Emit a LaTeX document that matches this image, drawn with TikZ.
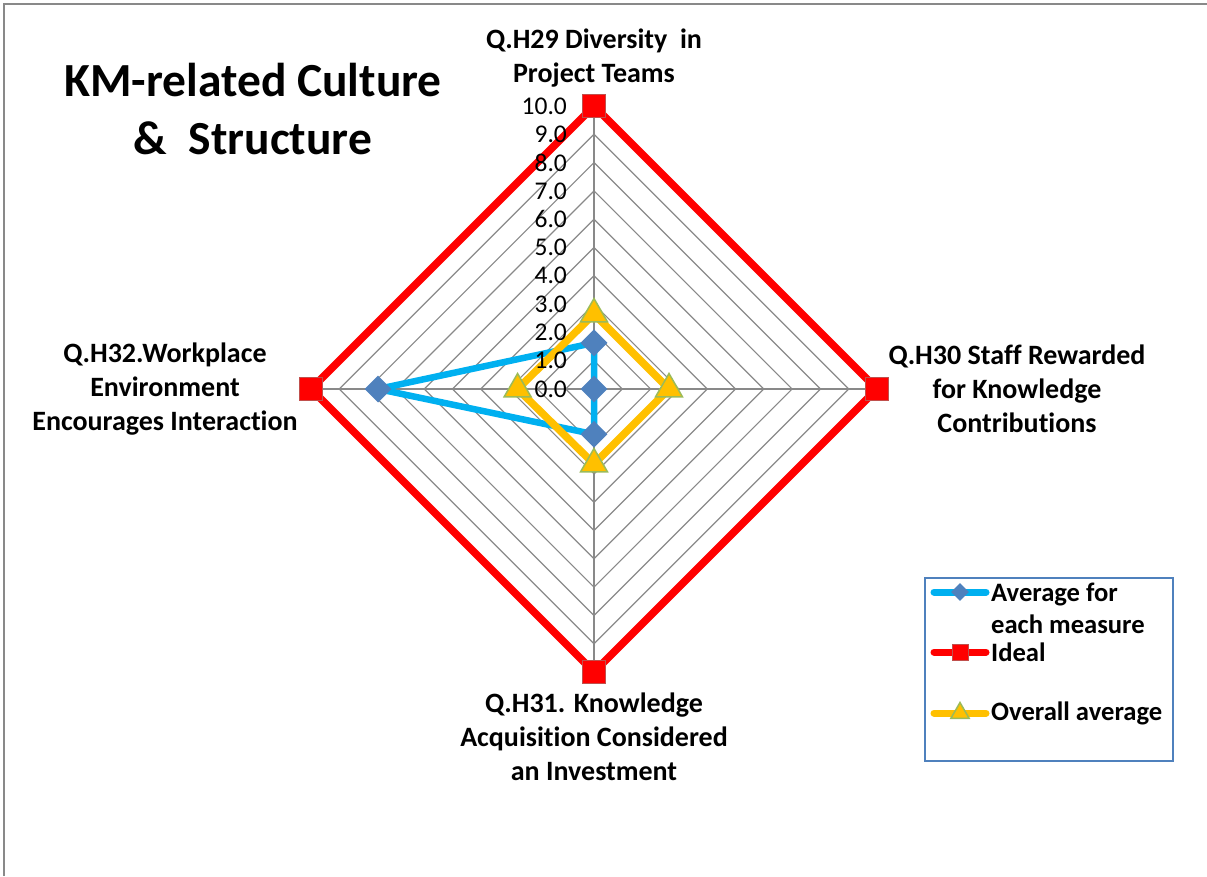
\documentclass[tikz,border=0pt]{standalone}
\usepackage{fontspec}
\setmainfont{Carlito}[Ligatures={NoCommon}]
\usepackage{tikz}
\usetikzlibrary{positioning,shapes.geometric}

\definecolor{gridgray}{HTML}{898989}
\definecolor{avgblue}{HTML}{00B0F0}
\definecolor{avgmk}{HTML}{4F81BD}
\definecolor{idealred}{HTML}{FF0000}
\definecolor{idealmk}{HTML}{C0504D}
\definecolor{ovgold}{HTML}{FFC000}
\definecolor{ovmk}{HTML}{9BBB59}
\definecolor{legblue}{HTML}{4F81BD}

\tikzset{
    axislabel/.style={font=\bfseries\fontsize{28}{34}\selectfont, align=center, inner sep=0pt},
    ticklabel/.style={font=\fontsize{25.5}{30}\selectfont, anchor=east, inner sep=0pt},
    avgmark/.style={diamond, fill=avgmk, minimum size=27pt, inner sep=0pt},
    idealmark/.style={rectangle, fill=idealred, draw=idealmk, line width=1pt, minimum size=23pt, inner sep=0pt},
    ovmark/.style={regular polygon, regular polygon sides=3, fill=ovgold, draw=ovmk, line width=1.5pt, minimum size=31pt, inner sep=0pt},
}

\begin{document}
\begin{tikzpicture}[x=1pt,y=-1pt]

        \useasboundingbox (0,0) rectangle (1207,876);
        \draw [gridgray, line width=1.5pt] (4,876) -- (4,4) -- (1207,4);

        % title
        \node [font=\bfseries\fontsize{47.5}{58}\selectfont, align=center] (title) at (253,109)
            {KM-related Culture\\\&\ \ Structure};

        % axis titles
        \node [axislabel] (lblN) at (594,58) {Q.H29 Diversity\ \ in\\Project Teams};
        \node [axislabel] (lblE) at (1017,389) {Q.H30 Staff Rewarded\\for Knowledge\\Contributions};
        \node [axislabel] (lblS) at (594,737) {Q.H31. Knowledge\\Acquisition Considered\\an Investment};
        \node [axislabel] (lblW) at (165,389) {Q.H32.Workplace\\Environment\\Encourages Interaction};

        \begin{scope}[shift={(594,389)}, x=28.3pt, y=28.3pt]
            \coordinate (O) at (0,0);
            \coordinate (N) at (0,10);
            \coordinate (E) at (10,0);
            \coordinate (S) at (0,-10);
            \coordinate (W) at (-10,0);

            % grid
            \foreach \r in {1,...,10}
                \draw [gridgray, line width=1.2pt] (0,\r) -- (\r,0) -- (0,-\r) -- (-\r,0) -- cycle;
            \path [gridgray, line width=1.2pt] (O) edge (N) (O) edge (E) (O) edge (S) (O) edge (W);

            % series values
            \coordinate (a1) at (0,1.63);
            \coordinate (a2) at (0,0);
            \coordinate (a3) at (0,-1.6);
            \coordinate (a4) at (-7.63,0);
            \coordinate (v1) at (0,2.65);
            \coordinate (v2) at (2.65,0);
            \coordinate (v3) at (0,-2.65);
            \coordinate (v4) at (-2.7,0);

            \draw [avgblue, line width=6.5pt, line join=round] (a1) -- (a2) -- (a3) -- (a4) -- cycle;
            \draw [idealred, line width=7.5pt, line join=round] (N) -- (E) -- (S) -- (W) -- cycle;
            \draw [ovgold, line width=7.5pt, line join=round] (v1) -- (v2) -- (v3) -- (v4) -- cycle;

            \begin{scope}[every node/.style=avgmark]
                \node (am1) at (a1) {};
                \node (am2) at (a2) {};
                \node (am3) at (a3) {};
                \node (am4) at (a4) {};
            \end{scope}
            \begin{scope}[every node/.style=idealmark]
                \node (im1) at (N) {};
                \node (im2) at (E) {};
                \node (im3) at (S) {};
                \node (im4) at (W) {};
            \end{scope}
            \begin{scope}[every node/.style=ovmark]
                \node (om1) at (v1) {};
                \node (om2) at (v2) {};
                \node (om3) at (v3) {};
                \node (om4) at (v4) {};
            \end{scope}

            % scale
            \foreach \r in {0,...,10}
                \node [ticklabel] (t\r) at (-0.95,\r) {\r.0};
        \end{scope}

        % legend
        \node [draw=legblue, line width=1.5pt, minimum width=248pt, minimum height=183pt,
            anchor=north west, inner sep=0pt] (legend) at (924,577) {};
        \begin{scope}[line width=7pt, line cap=round]
            \coordinate (la1) at (934,592);  \coordinate (la2) at (986,592);
            \coordinate (lb1) at (934,652);  \coordinate (lb2) at (986,652);
            \coordinate (lc1) at (934,713);  \coordinate (lc2) at (986,713);
            \draw [avgblue] (la1) -- (la2);
            \draw [idealred] (lb1) -- (lb2);
            \draw [ovgold] (lc1) -- (lc2);
        \end{scope}
        \node [avgmark, minimum size=18pt] (lam) at (960,592) {};
        \node [idealmark, minimum size=16pt] (lim) at (960,652) {};
        \node [ovmark, minimum size=21pt] (lom) at (960,713) {};
        \begin{scope}[every node/.style={font=\bfseries\fontsize{26.6}{32}\selectfont, align=left, anchor=west, inner sep=0pt}]
            \node (ltA) at (991,608) {Average for\\each measure};
            \node (ltB) at (991,652) {Ideal};
            \node (ltC) at (991,713) {Overall average};
        \end{scope}

    \end{tikzpicture}
\end{document}
